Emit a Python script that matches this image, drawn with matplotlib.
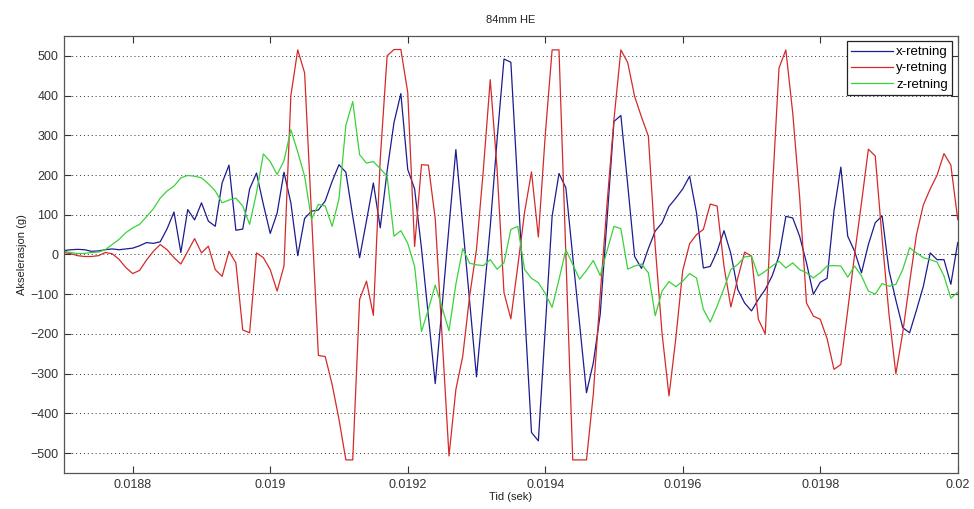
import matplotlib
matplotlib.use("Agg")
import matplotlib.pyplot as plt
import numpy as np

# sample grid (s)
T0 = 0.0187
DT = 1e-5

# acceleration (g), one value per sample
x_retning = [
    10, 12, 13, 12, 8, 9, 12, 14, 12, 14,
    16, 22, 30, 28, 32, 65, 107, 5, 113, 87,
    130, 84, 71, 180, 225, 61, 64, 165, 205, 126,
    53, 104, 207, 130, -3, 91, 109, 112, 135, 184,
    226, 207, 96, -8, 85, 180, 67, 210, 332, 405,
    214, 165, 15, -155, -325, -130, 70, 264, 73, -117,
    -308, -120, 70, 290, 492, 484, 170, -140, -448, -469,
    -186, 96, 204, 168, -5, -175, -348, -272, -150, 90,
    335, 350, 175, -5, -35, 15, 59, 80, 121, 142,
    165, 197, 105, -34, -30, 8, 60, 2, -88, -122,
    -142, -113, -88, -54, -4, 96, 92, 46, -21, -100,
    -70, -60, 110, 220, 46, 8, -46, 25, 80, 97,
    -40, -115, -184, -197, -140, -80, 4, -13, -13, -75,
    30,
]
y_retning = [
    5, 2, -3, -5, -5, -3, 5, 2, -12, -33,
    -48, -40, -14, 8, 25, 12, -8, -24, 8, 40,
    4, 21, -38, -55, 8, -21, -190, -197, 4, -8,
    -38, -92, -29, 400, 515, 457, 100, -254, -257, -327,
    -415, -517, -517, -113, -67, -153, 240, 500, 516, 516,
    408, 20, 226, 225, 90, -210, -507, -340, -256, -105,
    13, 214, 440, 214, -96, -162, -30, 107, 208, 44,
    300, 515, 515, 0, -517, -517, -517, -350, -100, 130,
    340, 515, 483, 398, 346, 298, 20, -200, -356, -210,
    -40, 27, 50, 63, 127, 122, -30, -132, -60, 6,
    -4, -163, -200, 150, 469, 515, 356, 146, -122, -155,
    -163, -212, -289, -277, -140, 0, 130, 265, 248, 40,
    -150, -300, -197, -70, 50, 125, 165, 200, 254, 225,
    88,
]
z_retning = [
    8, 5, 2, 3, 5, 6, 12, 25, 38, 55,
    67, 76, 95, 115, 142, 160, 172, 193, 199, 197,
    193, 178, 160, 130, 137, 142, 122, 76, 155, 253,
    234, 201, 236, 314, 258, 197, 88, 126, 122, 71,
    140, 325, 385, 251, 230, 234, 216, 197, 46, 60,
    28, -30, -194, -138, -77, -133, -192, -75, 15, -22,
    -26, -28, -13, -37, -21, 63, 71, -38, -60, -71,
    -98, -133, -63, 12, -25, -62, -40, -15, -53, 10,
    71, 65, -37, -29, -24, -46, -154, -92, -68, -81,
    -67, -48, -59, -138, -170, -130, -85, -38, -25, -6,
    -4, -54, -42, -29, -17, -34, -21, -38, -46, -59,
    -46, -29, -28, -29, -57, -29, -54, -92, -100, -73,
    -80, -75, -38, 17, 4, -8, -13, -19, -54, -110,
    -95,
]

series_labels = ["x-retning", "y-retning", "z-retning"]
xticks = [0.0188, 0.019, 0.0192, 0.0194, 0.0196, 0.0198, 0.02]
xtick_labels = ["0.0188", "0.019", "0.0192", "0.0194", "0.0196", "0.0198", "0.02"]
yticks = [-500, -400, -300, -200, -100, 0, 100, 200, 300, 400, 500]

plt.rcParams["font.family"] = ["Liberation Sans", "DejaVu Sans"]

fig = plt.figure(figsize=(9.74, 5.09), dpi=100)
ax = fig.add_axes([0.0657, 0.0707, 0.9176, 0.8586])

colors = ["#1c1c8e", "#d42a2a", "#3ad23a"]
for vals, lab, c in zip([x_retning, y_retning, z_retning], series_labels, colors):
    t = T0 + DT * np.arange(len(vals))
    ax.plot(t, vals, color=c, lw=0.9, label=lab)

ax.set_xlim(0.0187, 0.02)
ax.set_ylim(-550, 550)
ax.set_xticks(xticks)
ax.set_xticklabels(xtick_labels)
ax.set_yticks(yticks)

ax.yaxis.grid(True, linestyle=(0, (1, 3)), color="#333333", lw=0.7)
ax.tick_params(direction="in", top=True, right=True, length=5, width=0.8,
               labelsize=9, colors="#333333", pad=4)
for s in ax.spines.values():
    s.set_color("#555555")
    s.set_linewidth(0.9)

ax.set_title("84mm HE", fontsize=8, color="#222222", pad=9)
ax.set_xlabel("Tid (sek)", fontsize=8, color="#222222", labelpad=1)
ax.set_ylabel("Akselerasjon (g)", fontsize=8, color="#222222", labelpad=2)

leg = ax.legend(loc="upper right", fontsize=9.5, fancybox=False, framealpha=1,
                edgecolor="#222222", handlelength=3.2, handletextpad=0.2,
                labelspacing=0.3, borderaxespad=0.4, borderpad=0.35)
leg.get_frame().set_linewidth(0.9)

fig.savefig("out.png", dpi=100)
